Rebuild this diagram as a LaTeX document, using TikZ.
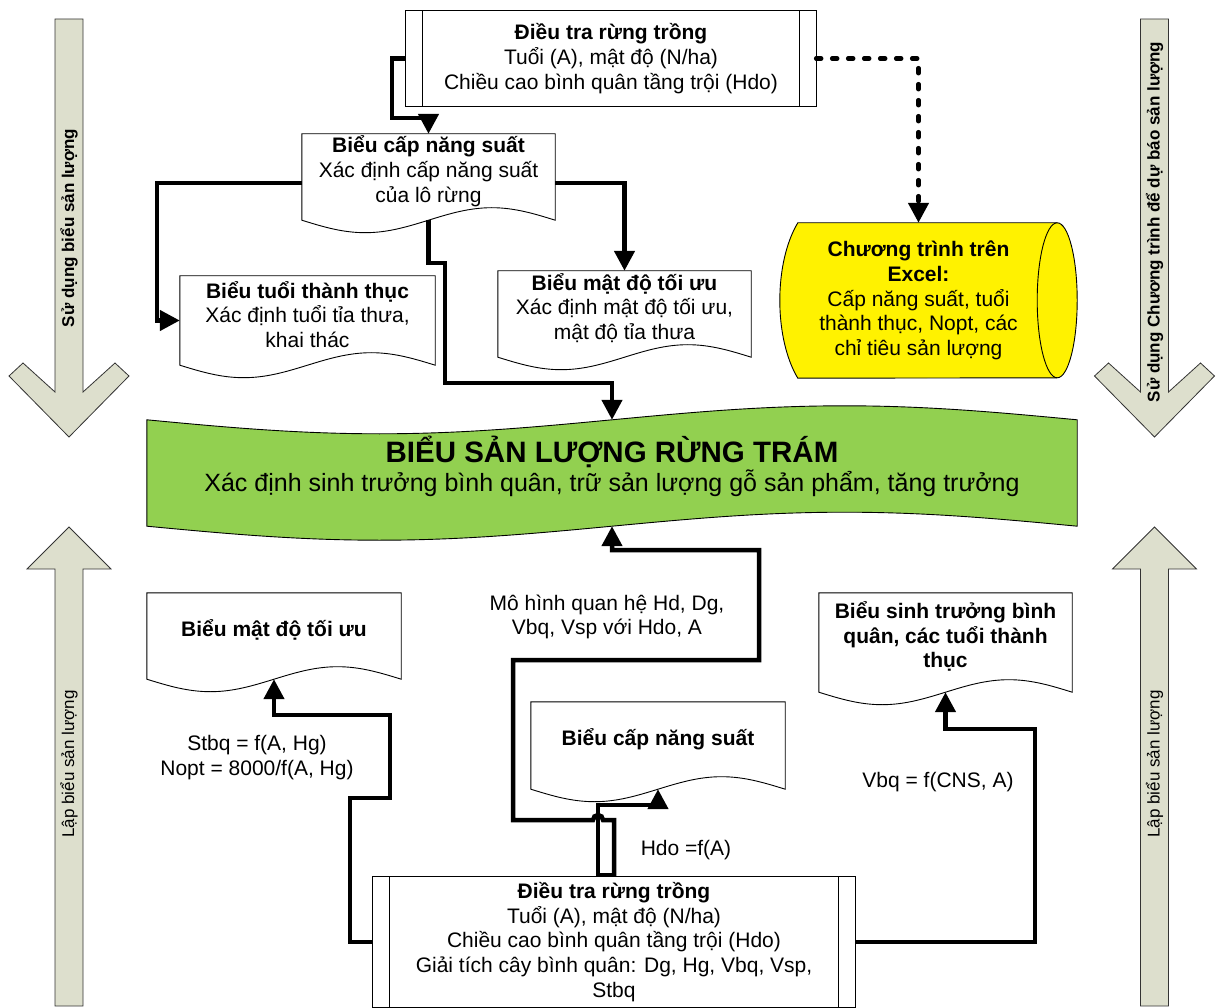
\documentclass[tikz,border=0pt]{standalone}
\usepackage{fontspec}
\setmainfont{Liberation Sans}
\usetikzlibrary{calc,arrows.meta,backgrounds}
\definecolor{blockfill}{RGB}{221,223,205}
\definecolor{bannergreen}{RGB}{146,208,80}
\newcommand\bodyfont{\fontsize{21}{24.8}\selectfont}
\newcommand\sidefont{\fontsize{17}{20}\selectfont}
\newcommand\titlefont{\fontsize{29.5}{34}\selectfont\bfseries}
\newcommand\docframe[1]{%
  \draw[shapeline,fill=white] (#1.north west) -- (#1.north east) -- ($(#1.south east)+(0,12)$)
    sin ($(#1.south east)!0.25!(#1.south west)+(0,-0.5)$)
    cos ($(#1.south)+(0,12)$)
    sin ($(#1.south east)!0.75!(#1.south west)+(0,24.5)$)
    cos ($(#1.south west)+(0,12)$) -- cycle;
  \coordinate (#1-s) at ($(#1.south)+(0,12)$);
  \coordinate (#1-w) at ($(#1.west)+(0,6)$);}
\newcommand\procframe[1]{%
  \draw[shapeline,fill=white] (#1.north west) rectangle (#1.south east);
  \draw[shapeline] ($(#1.north west)+(17,0)$) -- ($(#1.south west)+(17,0)$)
    ($(#1.north east)+(-17,0)$) -- ($(#1.south east)+(-17,0)$);}
\newcommand\tapeframe[1]{%
  \draw[shapeline,fill=bannergreen] (#1.north west)
    sin ($(#1.north west)!0.25!(#1.north east)+(0,14)$)
    cos (#1.north)
    sin ($(#1.north west)!0.75!(#1.north east)+(0,-14)$)
    cos (#1.north east) -- ($(#1.south east)+(0,14)$)
    sin ($(#1.south west)!0.75!(#1.south east)$)
    cos ($(#1.south)+(0,14)$)
    sin ($(#1.south west)!0.25!(#1.south east)+(0,28)$)
    cos ($(#1.south west)+(0,14)$) -- cycle;
  \coordinate (#1-s) at ($(#1.south)+(0,14)$);}
\begin{document}
\begin{tikzpicture}[x=1pt,y=-1pt,
  shapeline/.style={draw=black,line width=0.9pt},
  shapebox/.style={inner sep=0pt,align=center,font=\bodyfont},
  conn/.style={line width=4.5pt,-{Triangle[length=20pt,width=20pt]}},
  dashconn/.style={conn,line cap=round,dash pattern=on 5pt off 11pt},
  block/.style={draw=black!80,line width=0.8pt,fill=blockfill},
  side/.style={rotate=90,font=\sidefont}]
\useasboundingbox (0,0) rectangle (1216,1008);

\foreach \cx in {69,1154.5}{
  \draw[block] ({\cx-14},19) -- ({\cx-14},392) -- ({\cx-46},363) -- ({\cx-60},376) -- (\cx,437)
    -- ({\cx+60},376) -- ({\cx+46},363) -- ({\cx+14},392) -- ({\cx+14},19) -- cycle;
  \draw[block] ({\cx-14},1006) -- ({\cx-14},569) -- ({\cx-42},569) -- (\cx,527)
    -- ({\cx+42},569) -- ({\cx+14},569) -- ({\cx+14},1006) -- cycle;
}
\node[side,font=\sidefont\bfseries] (useL) at (69,228) {Sử dụng biểu sản lượng};
\node[side,font=\sidefont\bfseries] (useR) at (1154.5,222) {Sử dụng Chương trình để dự báo sản lượng};
\node[side] (makeL) at (69,764) {Lập biểu sản lượng};
\node[side] (makeR) at (1154.5,764) {Lập biểu sản lượng};

\node[shapebox,minimum width=410,minimum height=95] (dtTop) at (611,58.5)
  {\textbf{Điều tra rừng trồng}\\Tuổi (A), mật độ (N/ha)\\Chiều cao bình quân tầng trội (Hdo)};
\node[shapebox,minimum width=253,minimum height=74] (bcnsTop) at (428.5,171)
  {\textbf{Biểu cấp năng suất}\\Xác định cấp năng suất\\của lô rừng};
\node[shapebox,minimum width=255,minimum height=77] (btttTop) at (307.5,314.5)
  {\textbf{Biểu tuổi thành thục}\\Xác định tuổi tỉa thưa,\\khai thác};
\node[shapebox,minimum width=253,minimum height=74] (bmdTop) at (624.5,308)
  {\textbf{Biểu mật độ tối ưu}\\Xác định mật độ tối ưu,\\mật độ tỉa thưa};
\node[shapebox,minimum width=277,minimum height=155] (excel) at (918.5,300.5)
  {\textbf{Chương trình trên}\\\textbf{Excel:}\\Cấp năng suất, tuổi\\thành thục, Nopt, các\\chỉ tiêu sản lượng};
\node[shapebox,minimum width=930,minimum height=92] (banner) at (612,466)
  {{\titlefont BIỂU SẢN LƯỢNG RỪNG TRÁM}\\[1pt]{\fontsize{25}{28}\selectfont Xác định sinh trưởng bình quân, trữ sản lượng gỗ sản phẩm, tăng trưởng}};
\node[shapebox,minimum width=254,minimum height=74] (bmdBot) at (274,630)
  {\textbf{Biểu mật độ tối ưu}};
\node[shapebox,minimum width=253,minimum height=87] (bstBot) at (945.5,636.5)
  {\textbf{Biểu sinh trưởng bình}\\\textbf{quân, các tuổi thành}\\\textbf{thục}};
\node[shapebox,minimum width=254,minimum height=75] (bcnsBot) at (658,739.5)
  {\textbf{Biểu cấp năng suất}};
\node[shapebox,minimum width=482,minimum height=130] (dtBot) at (614,942)
  {\textbf{Điều tra rừng trồng}\\Tuổi (A), mật độ (N/ha)\\Chiều cao bình quân tầng trội (Hdo)\\Giải tích cây bình quân: Dg, Hg, Vbq, Vsp,\\Stbq};

\node[shapebox] (mohinh) at (607,617) {Mô hình quan hệ Hd, Dg,\\Vbq, Vsp với Hdo, A};
\node[shapebox] (stbq) at (257,757.5) {Stbq = f(A, Hg)\\Nopt = 8000/f(A, Hg)};
\node[shapebox] (hdo) at (686,850) {Hdo =f(A)};
\node[shapebox] (vbq) at (938,782) {Vbq = f(CNS, A)};

\begin{pgfonlayer}{background}
  \procframe{dtTop}
  \procframe{dtBot}
  \foreach \d in {bcnsTop,btttTop,bmdTop,bmdBot,bstBot,bcnsBot}{\docframe{\d}}
  \tapeframe{banner}
  \draw[shapeline,fill=yellow] ($(excel.north west)+(18,0)$) -- (excel.north east)
    arc[start angle=-90,end angle=90,x radius=20,y radius=77.5]
    -- ($(excel.south west)+(18,0)$) .. controls +(-24,-40) and +(-24,40) .. ($(excel.north west)+(18,0)$) -- cycle;
  \draw[shapeline] (excel.north east) arc[start angle=-90,end angle=-270,x radius=20,y radius=77.5];
\end{pgfonlayer}

\draw[conn] (dtTop.west) -| (392,118) -| (bcnsTop.north);
\draw[conn] ($(bcnsTop.west)+(0,12)$) -- (157,183) |- (btttTop-w);
\draw[conn] ($(bcnsTop.east)+(0,12)$) -| (bmdTop.north);
\draw[conn] (bcnsTop-s) |- (445,263) -- (445,383) -| (banner.north);
\draw[dashconn] (dtTop.east) -| (excel.north);

\draw[conn] (dtBot.west) -| (350,798) -| (390,715) -| (bmdBot-s);
\draw[conn] (dtBot.east) -| (1035,729) -| (bstBot-s);
\draw[conn] ($(dtBot.north)+(0,-2)$) -- ++(-16,0) |- ($(bcnsBot-s)+(0,16)$) -- (bcnsBot-s);
\draw[conn] (dtBot.north) |- (603,820) arc[start angle=0,end angle=-180,radius=5]
  -- (513,820) |- (759,660) -- (759,550) -| (banner-s);
\end{tikzpicture}
\end{document}
